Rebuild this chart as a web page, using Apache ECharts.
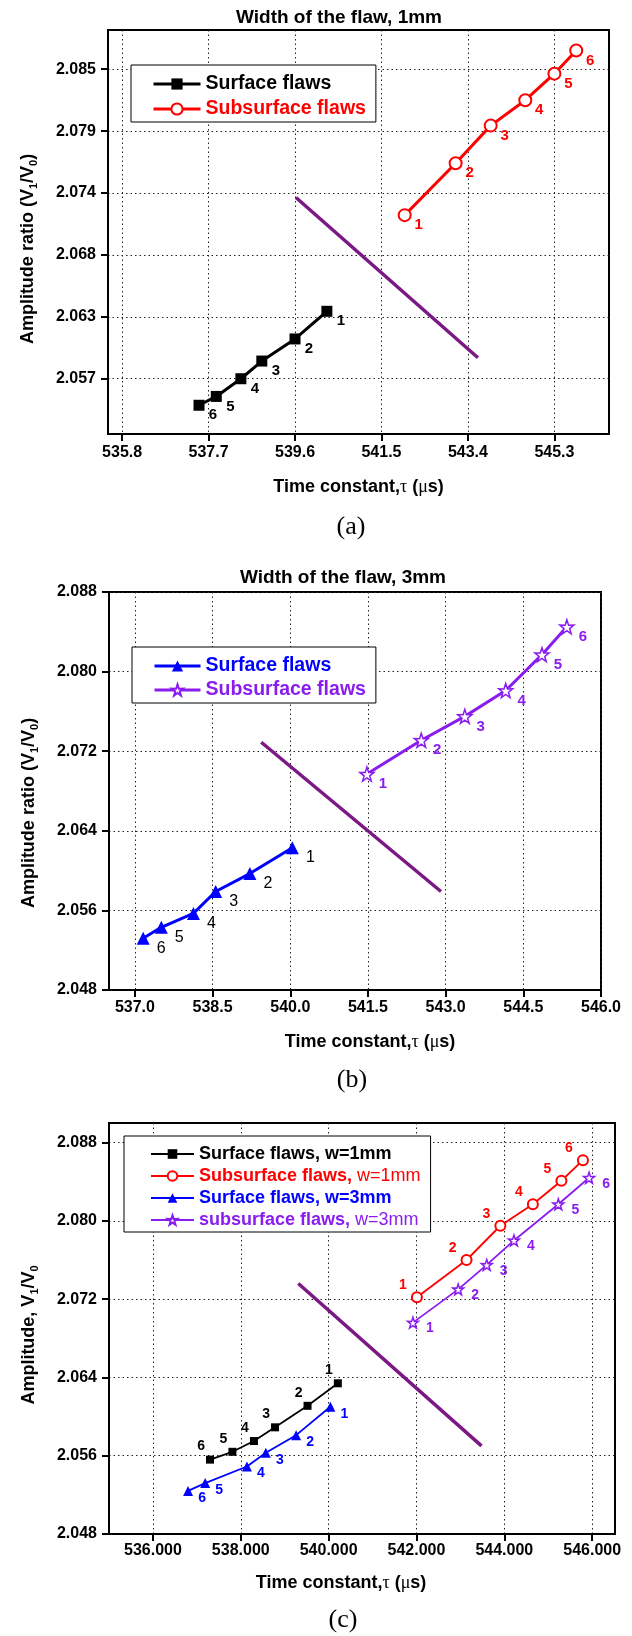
<!DOCTYPE html>
<html>
<head>
<meta charset="utf-8">
<script src="https://cdn.jsdelivr.net/npm/echarts@6/dist/echarts.min.js"></script>
<style>
  html, body { margin: 0; padding: 0; background: #fff; }
  #main { width: 632px; height: 1636px; }
</style>
</head>
<body>
<div id="main"></div>
<script>
var F = '"Liberation Sans", Arial, sans-serif';
var SERIF = '"Liberation Serif", "Times New Roman", serif';

// (a) width of the flaw 1mm
var aSurfX = [540.30, 539.60, 538.87, 538.41, 537.87, 537.49];
var aSurfY = [2.0631, 2.0606, 2.0586, 2.0570, 2.0554, 2.0546];
var aSubX = [542.01, 543.13, 543.90, 544.66, 545.30, 545.78];
var aSubY = [2.0718, 2.0765, 2.0799, 2.0822, 2.0846, 2.0867];
var aDiagX = [539.62, 543.62];
var aDiagY = [2.0734, 2.0589];
var aTicksX = [535.8, 537.7, 539.6, 541.5, 543.4, 545.3];
var aTicksY = [2.057, 2.0626, 2.0682, 2.0738, 2.0794, 2.085];

// (b) width of the flaw 3mm
var bSurfX = [540.04, 539.22, 538.56, 538.13, 537.51, 537.16];
var bSurfY = [2.0623, 2.0597, 2.0579, 2.0557, 2.0543, 2.0532];
var bSubX = [541.48, 542.53, 543.37, 544.16, 544.86, 545.34];
var bSubY = [2.0697, 2.0731, 2.0755, 2.0781, 2.0817, 2.0845];
var bDiagX = [539.44, 542.91];
var bDiagY = [2.0729, 2.0579];
var bTicksX = [537.0, 538.5, 540.0, 541.5, 543.0, 544.5, 546.0];
var bTicksY = [2.048, 2.056, 2.064, 2.072, 2.080, 2.088];

// (c) both widths
var cSurf1X = [540.21, 539.52, 538.78, 538.30, 537.81, 537.30];
var cSurf1Y = [2.0634, 2.0611, 2.0589, 2.0575, 2.0564, 2.0556];
var cSub1X = [542.01, 543.14, 543.91, 544.65, 545.30, 545.79];
var cSub1Y = [2.0722, 2.0760, 2.0795, 2.0817, 2.0841, 2.0862];
var cSurf3X = [540.04, 539.26, 538.57, 538.14, 537.19, 536.80];
var cSurf3Y = [2.0610, 2.0581, 2.0563, 2.0549, 2.0532, 2.0524];
var cSub3X = [541.92, 542.95, 543.60, 544.22, 545.23, 545.93];
var cSub3Y = [2.0696, 2.0730, 2.0755, 2.0780, 2.0817, 2.0844];
var cDiagX = [539.31, 543.48];
var cDiagY = [2.0736, 2.0570];
var cTicksX = [536, 538, 540, 542, 544, 546];
var cTicksY = [2.048, 2.056, 2.064, 2.072, 2.080, 2.088];

var pointNums = ['1', '2', '3', '4', '5', '6'];

var legendText = {
  aSurf: 'Surface flaws',
  aSub: 'Subsurface flaws',
  bSurf: 'Surface flaws',
  bSub: 'Subsurface flaws',
  cSurf1: 'Surface flaws, w=1mm',
  cSub1: '{t|Subsurface flaws, }{n|w=1mm}',
  cSurf3: 'Surface flaws, w=3mm',
  cSub3: '{t|subsurface flaws, }{n|w=3mm}'
};

var STAR = 'path://M50,0 L61.8,35.1 L97.6,34.5 L69.1,56.7 L79.4,90.5 L50,70 L20.6,90.5 L30.9,56.7 L2.4,34.5 L38.2,35.1 Z';
var BLACK = '#000000', RED = '#ff0000', BLUE = '#0000ff', VIOLET = '#8a1cf0', PURPLE = '#7a1884';

function pts(xs, ys) {
  return xs.map(function (x, i) { return [x, ys[i]]; });
}

var nameRich = {
  b: { fontFamily: F, fontWeight: 'bold', fontSize: 18, color: '#000', lineHeight: 22 },
  s: { fontFamily: F, fontWeight: 'bold', fontSize: 11, color: '#000', verticalAlign: 'bottom' },
  g: { fontFamily: SERIF, fontWeight: 'normal', fontSize: 18, color: '#000', lineHeight: 22 }
};
var xName = '{b|Time constant,}{g|\u03c4}{b| (}{g|\u03bc}{b|s)}';

function xAxisOf(gi, min, max, ticks, digits, margin, nameGap, namePad) {
  return {
    type: 'value', gridIndex: gi, min: min, max: max, position: 'bottom',
    axisLine: { onZero: false, lineStyle: { color: '#000', width: 2 } },
    axisTick: { show: true, inside: false, length: 7, customValues: ticks, lineStyle: { color: '#000', width: 2 } },
    axisLabel: {
      customValues: ticks, margin: margin, color: '#000', fontSize: 16, fontWeight: 'bold', fontFamily: F,
      formatter: function (v) { return v.toFixed(digits); }
    },
    splitLine: { show: true, lineStyle: { color: '#222', type: [1.5, 3], width: 1 } },
    name: xName, nameLocation: 'middle', nameGap: nameGap,
    nameTextStyle: { rich: nameRich, padding: namePad }
  };
}

function yAxisOf(gi, min, max, ticks, name, namePad) {
  return {
    type: 'value', gridIndex: gi, min: min, max: max, position: 'left',
    axisLine: { onZero: false, lineStyle: { color: '#000', width: 2 } },
    axisTick: { show: true, inside: false, length: 7, customValues: ticks, lineStyle: { color: '#000', width: 2 } },
    axisLabel: {
      customValues: ticks, margin: 12, color: '#000', fontSize: 16, fontWeight: 'bold', fontFamily: F,
      formatter: function (v) { return v.toFixed(3); }
    },
    splitLine: { show: true, lineStyle: { color: '#222', type: [1.5, 3], width: 1 } },
    name: name, nameLocation: 'middle', nameGap: 69, nameRotate: 90,
    nameTextStyle: { rich: nameRich, padding: namePad }
  };
}

function lineOf(name, gi, xs, ys, color, symbol, size, width, empty, lab) {
  return {
    name: name, type: 'line', xAxisIndex: gi, yAxisIndex: gi,
    data: pts(xs, ys),
    symbol: symbol, symbolSize: size, showAllSymbol: true,
    lineStyle: { color: color, width: width },
    itemStyle: empty ? { color: '#fff', borderColor: color, borderWidth: 1.5 } : { color: color },
    label: {
      show: true, position: 'inside', offset: lab.offset,
      formatter: function (p) { return pointNums[p.dataIndex]; },
      color: lab.color, fontSize: lab.size, fontWeight: lab.weight, fontFamily: F
    },
    emphasis: { disabled: true },
    z: 3
  };
}

function diagOf(gi, xs, ys) {
  return {
    type: 'line', xAxisIndex: gi, yAxisIndex: gi, data: pts(xs, ys),
    symbol: 'none', lineStyle: { color: PURPLE, width: 3.5 }, silent: true, z: 2
  };
}

function legendOf(items, pos) {
  return {
    data: items.map(function (it) { return { name: it[0], textStyle: { color: it[1] } }; }),
    formatter: function (n) { return legendText[n]; },
    orient: 'vertical', left: pos.left, top: pos.top,
    itemWidth: pos.iw, itemHeight: pos.ih, itemGap: pos.gap, padding: pos.pad,
    borderColor: '#000', borderWidth: 1, backgroundColor: '#fff', borderRadius: 0,
    selectedMode: false,
    lineStyle: { width: pos.lw },
    textStyle: {
      fontSize: pos.fs, fontWeight: 'bold', fontFamily: F,
      rich: {
        t: { fontSize: pos.fs, fontWeight: 'bold', fontFamily: F },
        n: { fontSize: pos.fs, fontWeight: 'normal', fontFamily: F }
      }
    }
  };
}

var chart = echarts.init(document.getElementById('main'), null, { renderer: 'canvas' });

var option = {
  animation: false,
  backgroundColor: '#fff',
  grid: [
    { left: 108, top: 30, width: 501, height: 404, show: true, borderColor: '#000', borderWidth: 2, outerBoundsMode: 'none' },
    { left: 109, top: 592, width: 492, height: 398, show: true, borderColor: '#000', borderWidth: 2, outerBoundsMode: 'none' },
    { left: 109, top: 1123, width: 506, height: 411, show: true, borderColor: '#000', borderWidth: 2, outerBoundsMode: 'none' }
  ],
  xAxis: [
    xAxisOf(0, 535.49, 546.5, aTicksX, 1, 11, 42, [0, 0, 0, 0]),
    xAxisOf(1, 536.5, 546.0, bTicksX, 1, 10, 41, [0, 0, 0, 30]),
    xAxisOf(2, 535.0, 546.52, cTicksX, 3, 9, 38, [0, 42, 0, 0])
  ],
  yAxis: [
    yAxisOf(0, 2.0520, 2.08855, aTicksY, '{b|Amplitude ratio (V}{s|1}{b|/V}{s|0}{b|)}', [0, 34, 0, 0]),
    yAxisOf(1, 2.048, 2.088, bTicksY, '{b|Amplitude ratio (V}{s|1}{b|/V}{s|0}{b|)}', [0, 44, 0, 0]),
    yAxisOf(2, 2.048, 2.090, cTicksY, '{b|Amplitude, V}{s|1}{b|/V}{s|0}', [0, 13, 0, 0])
  ],
  legend: [
    legendOf([['aSurf', BLACK], ['aSub', RED]], { left: 131, top: 65, iw: 47, ih: 14, gap: 5, pad: [9, 10, 3, 21], fs: 19.5, lw: 3 }),
    legendOf([['bSurf', BLUE], ['bSub', VIOLET]], { left: 132, top: 647, iw: 46, ih: 14, gap: 4, pad: [9, 10, 3, 21], fs: 19.5, lw: 3 }),
    legendOf([['cSurf1', BLACK], ['cSub1', RED], ['cSurf3', BLUE], ['cSub3', VIOLET]], { left: 124, top: 1136, iw: 43, ih: 12, gap: 4, pad: [9, 10, 3, 26], fs: 18, lw: 2 })
  ],
  graphic: [
    { type: 'text', x: 339, y: 18, style: { text: 'Width of the flaw, 1mm', fontFamily: F, fontWeight: 'bold', fontSize: 19, fill: '#000', align: 'center', verticalAlign: 'middle' } },
    { type: 'text', x: 343, y: 578, style: { text: 'Width of the flaw, 3mm', fontFamily: F, fontWeight: 'bold', fontSize: 19, fill: '#000', align: 'center', verticalAlign: 'middle' } },
    { type: 'text', x: 351, y: 527, style: { text: '(a)', fontFamily: SERIF, fontSize: 26, fill: '#000', align: 'center', verticalAlign: 'middle' } },
    { type: 'text', x: 352, y: 1080, style: { text: '(b)', fontFamily: SERIF, fontSize: 26, fill: '#000', align: 'center', verticalAlign: 'middle' } },
    { type: 'text', x: 343, y: 1620, style: { text: '(c)', fontFamily: SERIF, fontSize: 26, fill: '#000', align: 'center', verticalAlign: 'middle' } }
  ],
  series: [
    diagOf(0, aDiagX, aDiagY),
    lineOf('aSurf', 0, aSurfX, aSurfY, BLACK, 'rect', 11, 3, false, { offset: [14, 10], color: BLACK, size: 15, weight: 'bold' }),
    lineOf('aSub', 0, aSubX, aSubY, RED, 'emptyCircle', 12, 3, false, { offset: [14, 10], color: RED, size: 15, weight: 'bold' }),

    diagOf(1, bDiagX, bDiagY),
    lineOf('bSurf', 1, bSurfX, bSurfY, BLUE, 'triangle', 13, 3, false, { offset: [18, 10], color: BLACK, size: 16, weight: 'normal' }),
    lineOf('bSub', 1, bSubX, bSubY, VIOLET, STAR, 14, 3, true, { offset: [16, 10], color: VIOLET, size: 15, weight: 'bold' }),

    diagOf(2, cDiagX, cDiagY),
    lineOf('cSurf1', 2, cSurf1X, cSurf1Y, BLACK, 'rect', 8, 1.8, false, { offset: [-9, -13], color: BLACK, size: 14, weight: 'bold' }),
    lineOf('cSub1', 2, cSub1X, cSub1Y, RED, 'emptyCircle', 10, 1.8, false, { offset: [-14, -12], color: RED, size: 14, weight: 'bold' }),
    lineOf('cSurf3', 2, cSurf3X, cSurf3Y, BLUE, 'triangle', 10, 1.8, false, { offset: [14, 7], color: BLUE, size: 14, weight: 'bold' }),
    lineOf('cSub3', 2, cSub3X, cSub3Y, VIOLET, STAR, 11, 1.8, true, { offset: [17, 6], color: VIOLET, size: 14, weight: 'bold' })
  ]
};

chart.setOption(option);
</script>
</body>
</html>
